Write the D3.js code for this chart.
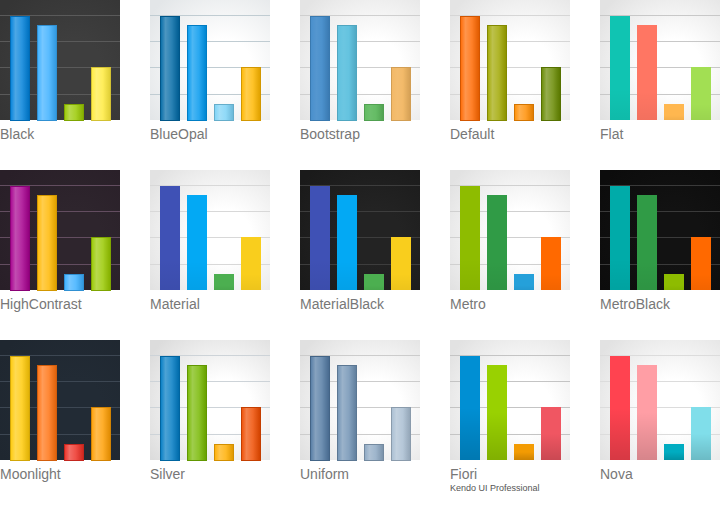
<!DOCTYPE html>
<html><head><meta charset="utf-8">
<script src="https://cdn.jsdelivr.net/npm/d3@7"></script>
<style>html,body{margin:0;padding:0;background:#fff;}svg{display:block;}</style>
</head><body>
<svg id="chart" width="720" height="520"></svg>
<script>
// ---- data ----
const themeNames = ["Black","BlueOpal","Bootstrap","Default","Flat",
  "HighContrast","Material","MaterialBlack","Metro","MetroBlack",
  "Moonlight","Silver","Uniform","Fiori","Nova"];
const categories = ["A","B","C","D"];
const values = [3.93, 3.6, 0.6, 2.0];
const gridTicks = [1, 2, 3, 4];
const subtitles = {"Fiori": "Kendo UI Professional"};

// series colors per theme
const colBlack        = ["#0081da","#3aafff","#99c900","#ffeb3d"];
const colBlueOpal     = ["#0069a5","#0098ee","#7bd2f6","#ffb800"];
const colBootstrap    = ["#428bca","#5bc0de","#5cb85c","#f2b661"];
const colDefault      = ["#ff6800","#a0a700","#ff8d00","#678900"];
const colFlat         = ["#10c4b2","#ff7663","#ffb74f","#a2df53"];
const colHighContrast = ["#a7008f","#ffb800","#3aafff","#99c900"];
const colMaterial     = ["#3f51b5","#03a9f4","#4caf50","#f9ce1d"];
const colMaterialBlack= ["#3f51b5","#03a9f4","#4caf50","#f9ce1d"];
const colMetro        = ["#8ebc00","#309b46","#25a0da","#ff6900"];
const colMetroBlack   = ["#00aba9","#309b46","#8ebc00","#ff6900"];
const colMoonlight    = ["#ffca08","#ff710f","#ed2e24","#ff9f03"];
const colSilver       = ["#007bc3","#76b800","#ffae00","#ef4c00"];
const colUniform      = ["#527aa3","#6f91b3","#8ca7c2","#a8bdd1"];
const colFiori        = ["#008fd3","#99d101","#f39b02","#f05662"];
const colNova         = ["#ff4350","#ff9ea5","#00acc1","#80deea"];

// style per theme: background, grid color, bar style
const themeStyles = {
  Black:        {colors: colBlack,        bg: ["#3e3e3e","#353535"], grid: "#5a5a5a", bar: "glass"},
  BlueOpal:     {colors: colBlueOpal,     bg: ["#ffffff","#e3e6e8"], grid: "#c0ccd2", bar: "glass"},
  Bootstrap:    {colors: colBootstrap,    bg: ["#ffffff","#e4e4e4"], grid: "#cfcfcf", bar: "soft"},
  Default:      {colors: colDefault,      bg: ["#ffffff","#e4e4e4"], grid: "#d6d6d6", bar: "glass"},
  Flat:         {colors: colFlat,         bg: ["#ffffff","#e2e2e2"], grid: "#c8c8c8", bar: "flat"},
  HighContrast: {colors: colHighContrast, bg: ["#2e252d","#291f28"], grid: "#634d60", bar: "glass"},
  Material:     {colors: colMaterial,     bg: ["#ffffff","#e2e2e2"], grid: "#d8d8d8", bar: "flat"},
  MaterialBlack:{colors: colMaterialBlack,bg: ["#232323","#1a1a1a"], grid: "#3d3d3d", bar: "flat"},
  Metro:        {colors: colMetro,        bg: ["#ffffff","#e2e2e2"], grid: "#d0d0d0", bar: "flat"},
  MetroBlack:   {colors: colMetroBlack,   bg: ["#121212","#0c0c0c"], grid: "#3a3a3a", bar: "flat"},
  Moonlight:    {colors: colMoonlight,    bg: ["#222b35","#1f2730"], grid: "#3d4753", bar: "glass"},
  Silver:       {colors: colSilver,       bg: ["#ffffff","#dcdcdc"], grid: "#cdd3d8", bar: "glass"},
  Uniform:      {colors: colUniform,      bg: ["#ffffff","#e0e0e0"], grid: "#cccccc", bar: "glass"},
  Fiori:        {colors: colFiori,        bg: ["#ffffff","#e2e2e2"], grid: "#c4c4c4", bar: "shade"},
  Nova:         {colors: colNova,         bg: ["#ffffff","#e2e2e2"], grid: "#dcdcdc", bar: "shade"}
};

// ---- layout ----
const svg = d3.select("#chart");
const tileW = 120, tileH = 120, colStep = 150, rowStep = 170;

const x = d3.scaleBand().domain(categories).range([6, 114]).paddingInner(0.26).paddingOuter(0.13);
const y = d3.scaleLinear().domain([0, 4.55]).range([tileH, 0]);

const defs = svg.append("defs");
function hGrad(id, stops) {
  const gr = defs.append("linearGradient").attr("id", id).attr("x1","0").attr("x2","1").attr("y1","0").attr("y2","0");
  stops.forEach(s => gr.append("stop").attr("offset", s[0]).attr("stop-color", s[1]).attr("stop-opacity", s[2]));
}
function vGrad(id, stops) {
  const gr = defs.append("linearGradient").attr("id", id).attr("x1","0").attr("x2","0").attr("y1","0").attr("y2","1");
  stops.forEach(s => gr.append("stop").attr("offset", s[0]).attr("stop-color", s[1]).attr("stop-opacity", s[2]));
}
hGrad("glass", [[0,"#fff",0.05],[0.25,"#fff",0.3],[1,"#fff",0]]);
hGrad("glassDark", [[0.6,"#000",0],[1,"#000",0.12]]);
hGrad("softGlass", [[0,"#fff",0.04],[0.3,"#fff",0.1],[1,"#fff",0]]);
vGrad("shade", [[0.5,"#000",0],[1,"#000",0.16]]);
vGrad("flatShade", [[0.7,"#000",0],[1,"#000",0.05]]);

themeNames.forEach((name, i) => {
  const st = themeStyles[name];
  const col = i % 5, row = Math.floor(i / 5);
  const g = svg.append("g").attr("transform", `translate(${col*colStep},${row*rowStep})`);

  // background radial gradient
  const bgId = "bg" + i;
  const rg = defs.append("radialGradient").attr("id", bgId)
    .attr("cx","0.62").attr("cy","0.55").attr("r","0.75");
  rg.append("stop").attr("offset","0.3").attr("stop-color", st.bg[0]);
  rg.append("stop").attr("offset","1").attr("stop-color", st.bg[1]);
  g.append("rect").attr("width", tileW).attr("height", tileH).attr("fill", `url(#${bgId})`);

  // gridlines
  g.selectAll("line.grid").data(gridTicks).join("line")
    .attr("class","grid")
    .attr("x1", 0).attr("x2", tileW)
    .attr("y1", d => Math.round(y(d)) + 0.5).attr("y2", d => Math.round(y(d)) + 0.5)
    .attr("stroke", st.grid).attr("stroke-width", 1);

  // bars
  const bars = g.selectAll("g.bar").data(values.map((v, k) => ({v, k, c: categories[k]}))).join("g").attr("class","bar");
  const bx = d => Math.round(x(d.c));
  const bw = Math.round(x.bandwidth());
  const by = d => Math.round(y(d.v));
  if (st.bar === "glass" || st.bar === "soft") {
    bars.append("rect")
      .attr("x", d => bx(d) + 0.5).attr("y", d => by(d) + 0.5)
      .attr("width", bw - 1).attr("height", d => tileH - by(d))
      .attr("fill", d => st.colors[d.k])
      .attr("stroke", d => d3.color(st.colors[d.k]).darker(st.bar === "soft" ? 0.4 : 0.55))
      .attr("stroke-width", 1);
    bars.append("rect")
      .attr("x", d => bx(d) + 1).attr("y", d => by(d) + 1)
      .attr("width", bw - 2).attr("height", d => tileH - by(d) - 1)
      .attr("fill", st.bar === "soft" ? "url(#softGlass)" : "url(#glass)");
    bars.append("rect")
      .attr("x", d => bx(d) + 1).attr("y", d => by(d) + 1)
      .attr("width", bw - 2).attr("height", d => tileH - by(d) - 1)
      .attr("fill", "url(#glassDark)");
  } else {
    bars.append("rect")
      .attr("x", d => bx(d)).attr("y", d => by(d))
      .attr("width", bw).attr("height", d => tileH - by(d))
      .attr("fill", d => st.colors[d.k]);
    bars.append("rect")
      .attr("x", d => bx(d)).attr("y", d => by(d))
      .attr("width", bw).attr("height", d => tileH - by(d))
      .attr("fill", st.bar === "shade" ? "url(#shade)" : "url(#flatShade)");
  }

  // label
  g.append("text").attr("x", 0).attr("y", tileH + 19)
    .attr("font-family", "Arial, 'Liberation Sans', sans-serif")
    .attr("font-size", 14).attr("fill", "#777777").text(name);
  if (subtitles[name]) {
    g.append("text").attr("x", 0).attr("y", tileH + 31)
      .attr("font-family", "Arial, 'Liberation Sans', sans-serif")
      .attr("font-size", 9).attr("fill", "#555555").text(subtitles[name]);
  }
});
</script>
</body></html>
